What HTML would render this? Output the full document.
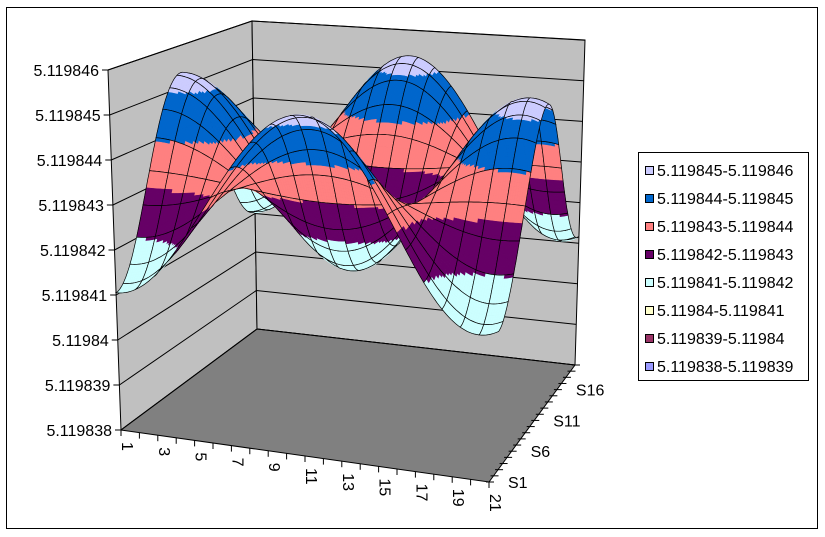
<!DOCTYPE html>
<html><head><meta charset="utf-8"><style>
html,body{margin:0;padding:0;background:#fff;}
svg{display:block;font-family:"Liberation Sans",Arial,sans-serif;}
</style></head><body>
<svg id="s" width="825" height="537" xmlns="http://www.w3.org/2000/svg">
<rect x="6.5" y="7.5" width="811" height="521" fill="#fff" stroke="#000" stroke-width="1"/>
<polygon points="108,70 252,21 257,329 121,430" fill="#c0c0c0" stroke="#000" stroke-width="1"/>
<polygon points="252,21 585,40 575,365 257,329" fill="#c0c0c0" stroke="#000" stroke-width="1"/>
<polygon points="121,430 257,329 575,365 489,482" fill="#808080" stroke="#000" stroke-width="1"/>
<g id="grid"></g>
<g id="surf"></g>
<g id="axes" font-size="16" fill="#000"></g>
<rect x="638.5" y="152.5" width="170" height="228" fill="#fff" stroke="#000"/>
<g font-size="16">
<rect x="645.5" y="166.5" width="8" height="8" fill="#ccccff" stroke="#000"/><text x="657" y="176">5.119845-5.119846</text>
<rect x="645.5" y="194.5" width="8" height="8" fill="#0066cc" stroke="#000"/><text x="657" y="204">5.119844-5.119845</text>
<rect x="645.5" y="222.5" width="8" height="8" fill="#ff8080" stroke="#000"/><text x="657" y="232">5.119843-5.119844</text>
<rect x="645.5" y="250.5" width="8" height="8" fill="#660066" stroke="#000"/><text x="657" y="260">5.119842-5.119843</text>
<rect x="645.5" y="278.5" width="8" height="8" fill="#ccffff" stroke="#000"/><text x="657" y="288">5.119841-5.119842</text>
<rect x="645.5" y="306.5" width="8" height="8" fill="#ffffcc" stroke="#000"/><text x="657" y="316">5.11984-5.119841</text>
<rect x="645.5" y="334.5" width="8" height="8" fill="#993366" stroke="#000"/><text x="657" y="344">5.119839-5.11984</text>
<rect x="645.5" y="362.5" width="8" height="8" fill="#9999ff" stroke="#000"/><text x="657" y="372">5.119838-5.119839</text>
</g>
</svg>
<script>
(function(){
var NS="http://www.w3.org/2000/svg";
var FL=[121,430],FR=[489,482],BL=[257,329],BR=[575,365];
function bl(a,b,c,d,u,v){return (1-u)*(1-v)*a+u*(1-v)*b+(1-u)*v*c+u*v*d;}
function P(u,v,t){
 var x=bl(FL[0],FR[0],BL[0],BR[0],u,v),y=bl(FL[1],FR[1],BL[1],BR[1],u,v);
 var s=bl(45,47.5,38.5,40.6,u,v),l=bl(-13/8,3,-5/8,10/8,u,v);
 return [x+l*t,y-s*t];
}
function el(n,a,p){var e=document.createElementNS(NS,n);for(var k in a)e.setAttribute(k,a[k]);(p||document.getElementById('s')).appendChild(e);return e;}
var grid=document.getElementById('grid'),surf=document.getElementById('surf'),axes=document.getElementById('axes');
for(var k=0;k<=8;k++){
 var a=P(0,0,k),b=P(0,1,k),c=P(1,1,k);
 el('polyline',{points:a+' '+b+' '+c,fill:'none',stroke:'#000','stroke-width':1},grid);
 el('line',{x1:a[0]-6,y1:a[1],x2:a[0],y2:a[1],stroke:'#000'},axes);
 var lab=['5.119838','5.119839','5.11984','5.119841','5.119842','5.119843','5.119844','5.119845','5.119846'][k];
 var t=el('text',{x:a[0]-9,y:a[1]+6,'text-anchor':'end'},axes);t.textContent=lab;
}
for(var i=0;i<=20;i++){
 var p=P(i/20,0,0);
 el('line',{x1:p[0],y1:p[1],x2:p[0],y2:p[1]+6,stroke:'#000'},axes);
 if(i%2==0){var t=el('text',{x:0,y:0,transform:'translate('+(p[0]+1)+','+(p[1]+12)+') rotate(90)'},axes);t.textContent=(i+1);}
}
for(var j=0;j<20;j++){
 var p=P(1,j/19,0);
 el('line',{x1:p[0]-3,y1:p[1],x2:p[0]+5,y2:p[1],stroke:'#000'},axes);
 if(j%5==0){var t=el('text',{x:p[0]+19,y:p[1]+6},axes);t.textContent='S'+(j+1);}
}
function Z(u,v){return 843.2-2.15*Math.cos(2*Math.PI*u/0.95)*Math.cos(2*Math.PI*v);}
var cols=['#9999ff','#993366','#ffffcc','#ccffff','#660066','#ff8080','#0066cc','#ccccff'];
function col(z){var b=Math.floor(z-838);if(b<0)b=0;if(b>7)b=7;return cols[b];}
var NI=20,NJ=19,SUB=8,cells=[];
for(var i=0;i<NI;i++)for(var j=0;j<NJ;j++)cells.push([i,j]);
cells.sort(function(a,b){var da=(a[1]+.5)/NJ+(1-(a[0]+.5)/NI)*0.3,db=(b[1]+.5)/NJ+(1-(b[0]+.5)/NI)*0.3;return db-da;});
function Q(u,v){return P(u,v,Z(u,v)-838);}
cells.forEach(function(c){
 var i=c[0],j=c[1],g=el('g',{},surf);
 for(var a=SUB-1;a>=0;a--)for(var b=SUB-1;b>=0;b--){
  var u0=(i+b/SUB)/NI,u1=(i+(b+1)/SUB)/NI,v0=(j+a/SUB)/NJ,v1=(j+(a+1)/SUB)/NJ;
  var zm=Z((u0+u1)/2,(v0+v1)/2),cc=col(zm);
  var pts=[Q(u0,v0),Q(u1,v0),Q(u1,v1),Q(u0,v1)].map(function(p){return p[0].toFixed(1)+','+p[1].toFixed(1);}).join(' ');
  el('polygon',{points:pts,fill:cc,stroke:cc,'stroke-width':0.5},g);
 }
 var o=[],u0=i/NI,u1=(i+1)/NI,v0=j/NJ,v1=(j+1)/NJ,s;
 for(s=0;s<=SUB;s++)o.push(Q(u0+(u1-u0)*s/SUB,v0));
 for(s=1;s<=SUB;s++)o.push(Q(u1,v0+(v1-v0)*s/SUB));
 for(s=1;s<=SUB;s++)o.push(Q(u1-(u1-u0)*s/SUB,v1));
 for(s=1;s<=SUB;s++)o.push(Q(u0,v1-(v1-v0)*s/SUB));
 el('polygon',{points:o.map(function(p){return p[0].toFixed(1)+','+p[1].toFixed(1);}).join(' '),fill:'none',stroke:'#000','stroke-width':0.7},g);
});
})();
</script>
</body></html>
